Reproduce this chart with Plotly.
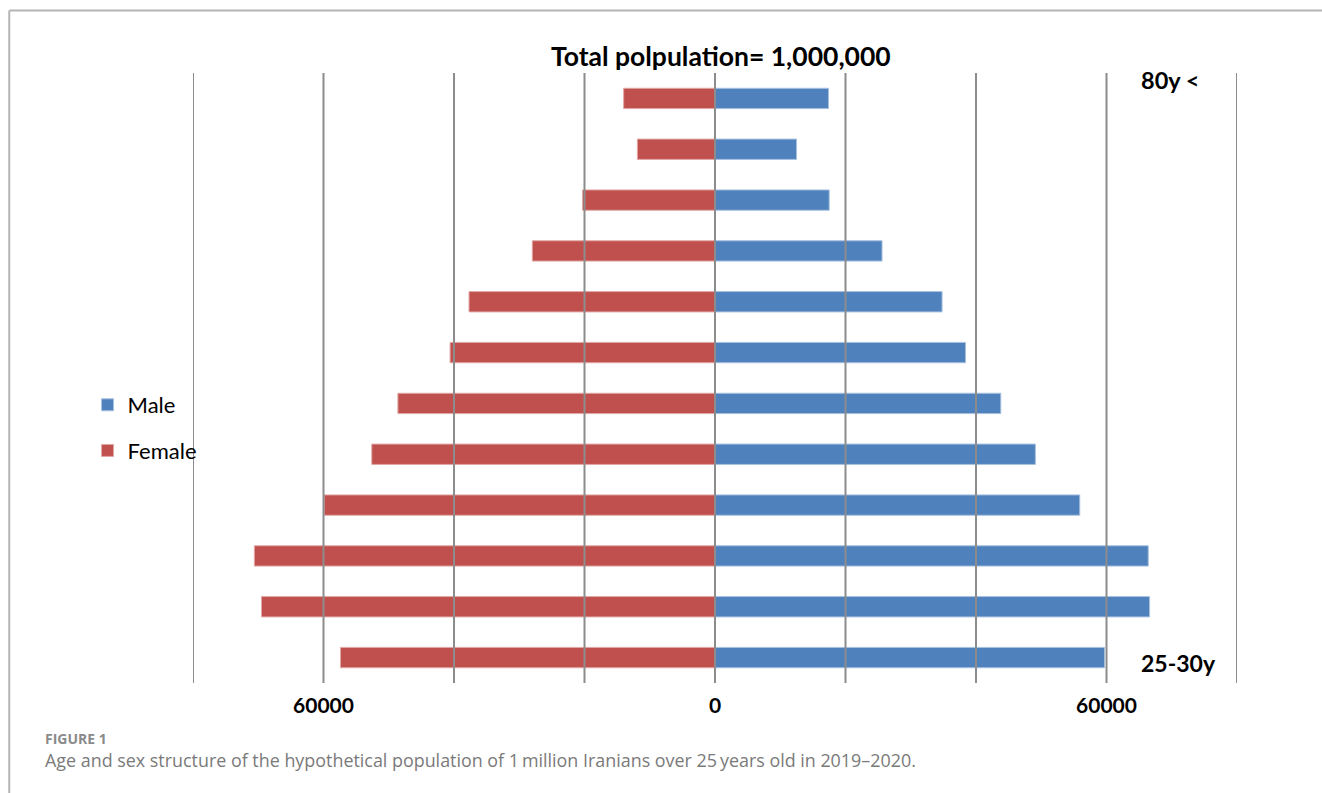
import plotly.graph_objects as go

age_groups = ["25-30y", "30-35y", "35-40y", "40-45y", "45-50y", "50-55y",
              "55-60y", "60-65y", "65-70y", "70-75y", "75-80y", "80y <"]
male = [59700, 66600, 66400, 55900, 49100, 43800, 38400, 34800, 25600, 17500, 12500, 17400]
female = [57400, 69500, 70600, 59900, 52600, 48600, 40600, 37700, 28000, 20300, 11900, 14000]
grid_values = [-80000, -60000, -40000, -20000, 0, 20000, 40000, 60000, 80000]
tick_values = [-60000, 0, 60000]
tick_labels = ["60000", "0", "60000"]

BLUE = "#4F81BD"
RED = "#C0504D"
FONT_B = "Lato"

fig = go.Figure()
fig.add_trace(go.Bar(
    y=age_groups, x=male, orientation="h", name="Male",
    marker=dict(color=BLUE, line=dict(color="#a9c1df", width=1)),
    legendgroup="m", legendrank=1,
))
fig.add_trace(go.Bar(
    y=age_groups, x=[-v for v in female], orientation="h", name="Female",
    marker=dict(color=RED, line=dict(color="#e0a9a7", width=1)),
    legendgroup="f", legendrank=2,
))

shapes = []
for g in grid_values:
    shapes.append(dict(type="line", xref="x", yref="paper", x0=g, x1=g, y0=0, y1=1,
                       line=dict(color="#8c8c8c", width=2), layer="above"))
# outer frame (top and left edges)
shapes.append(dict(type="line", xref="paper", yref="paper", x0=-0.176, x1=1.2, y0=1.1025, y1=1.1025,
                   line=dict(color="#b4b4b4", width=2)))
shapes.append(dict(type="line", xref="paper", yref="paper", x0=-0.176, x1=-0.176, y0=1.1025, y1=-0.25,
                   line=dict(color="#b4b4b4", width=2)))

annotations = [
    dict(text="Total polpulation= 1,000,000", xref="paper", yref="paper",
         x=0.506, y=1.028, xanchor="center", yanchor="middle", showarrow=False,
         font=dict(family=FONT_B, size=26.5, color="black", weight="bold")),
    dict(text="80y <", xref="x", yref="paper", x=65000, y=0.9885,
         xanchor="left", yanchor="middle", showarrow=False,
         font=dict(family=FONT_B, size=23.5, color="black", weight="bold")),
    dict(text="25-30y", xref="x", yref="paper", x=65000, y=0.0328,
         xanchor="left", yanchor="middle", showarrow=False,
         font=dict(family=FONT_B, size=23, color="black", weight="bold")),
    dict(text="FIGURE 1", xref="paper", yref="paper", x=-0.1437, y=-0.0902,
         xanchor="left", yanchor="middle", showarrow=False,
         font=dict(family="Open Sans", size=14, color="#8a8a8a", weight="bold")),
    dict(text="Age and sex structure of the hypothetical population of 1\u2009million Iranians over 25\u2009years old in 2019\u20132020.",
         xref="paper", yref="paper", x=-0.1437, y=-0.1262,
         xanchor="left", yanchor="middle", showarrow=False,
         font=dict(family="Open Sans", size=17.9, color="#7a7a7a")),
]

fig.update_layout(
    width=1322, height=793,
    margin=dict(l=193, r=85, t=73, b=110),
    paper_bgcolor="white", plot_bgcolor="white",
    barmode="overlay", bargap=0.6,
    showlegend=True,
    legend=dict(x=-0.101, y=0.418, xanchor="left", yanchor="middle",
                traceorder="grouped", tracegroupgap=14,
                font=dict(family="Lato", size=22, color="black"),
                bgcolor="rgba(0,0,0,0)"),
    shapes=shapes,
    annotations=annotations,
    xaxis=dict(range=[-80000, 80000], tickvals=tick_values, ticktext=tick_labels,
               showgrid=False, zeroline=False, showline=False, ticks="",
               ticklabelstandoff=8,
               tickfont=dict(family=FONT_B, size=21, color="black", weight="bold")),
    yaxis=dict(type="category", categoryorder="array", categoryarray=age_groups,
               range=[-0.5, 11.5], showticklabels=False, showgrid=False,
               zeroline=False, showline=False, ticks=""),
)

fig.write_html("out.html")
